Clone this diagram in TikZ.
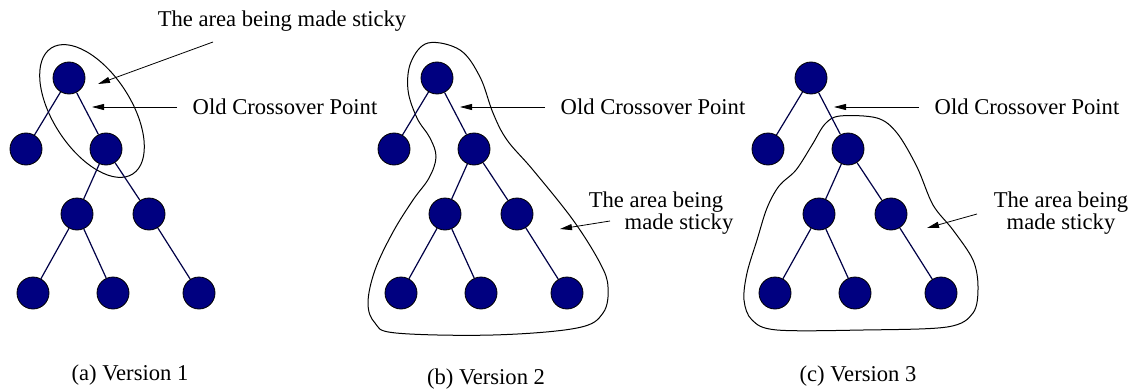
\documentclass[tikz,border=0pt]{standalone}
\usepackage{fontspec}
\setmainfont{Liberation Serif}
\usetikzlibrary{arrows.meta}
\definecolor{treeblue}{RGB}{0,0,128}

\begin{document}
\begin{tikzpicture}[x=0.5pt, y=-0.5pt, >={Triangle[length=6pt,width=3pt]},
  vert/.style={circle, draw=black, fill=treeblue, minimum size=16pt, inner sep=0pt, line width=0.4pt},
  edge/.style={draw=treeblue!55!black, line width=0.6pt},
  hull/.style={line width=0.5pt},
  lab/.style={anchor=base, inner sep=0pt, font=\fontsize{11.3}{13}\selectfont}]
\useasboundingbox (0,0) rectangle (1133,390);
% --- Version 1 ---
\begin{scope}
\draw[hull, rotate around={-57:(92,111)}] (92,111) ellipse (75 and 39);
\foreach \n/\x/\y in {r/69/78, l1/26/149, r1/106/149, m1/77/214, m2/149/214, b1/33/293, b2/113/293, b3/199/293}
  {\node[vert] (\n) at (\x,\y) {};}
\foreach \a/\b in {r/l1, r/r1, r1/m1, r1/m2, m1/b1, m1/b2, m2/b3}
  {\draw[edge] (\a) -- (\b);}
\node[lab] (stick) at (282,27) {The area being made sticky};
\coordinate (sA) at (213,42); \coordinate (sB) at (98,84);
\draw[->] (sA) -- (sB);
\node[lab] (ocp) at (285,114) {Old Crossover Point};
\coordinate (oA) at (177,107); \coordinate (oB) at (92,107);
\draw[->] (oA) -- (oB);
\node[lab] (cap) at (130,380) {(a) Version 1};
\end{scope}
% --- Version 2 ---
\begin{scope}[xshift=184pt]
\draw[hull] plot[smooth cycle, tension=0.6] coordinates {(60,43) (43,62) (40,90) (49,118) (62,138) (68,157) (61,178) (45,200) (25,232) (7,270) (0,303) (7,323) (28,333) (125,335) (209,328) (235,313) (240,287) (232,263) (205,220) (165,170) (139,140) (125,113) (112,77) (92,50)};
\foreach \n/\x/\y in {r/69/78, l1/26/149, r1/106/149, m1/77/214, m2/149/214, b1/33/293, b2/113/293, b3/199/293}
  {\node[vert] (\n) at (\x,\y) {};}
\foreach \a/\b in {r/l1, r/r1, r1/m1, r1/m2, m1/b1, m1/b2, m2/b3}
  {\draw[edge] (\a) -- (\b);}
\node[lab] (ocp) at (285,114) {Old Crossover Point};
\coordinate (oA) at (177,107); \coordinate (oB) at (92,107);
\draw[->] (oA) -- (oB);
\node[lab] (stick1) at (288,207) {The area being};
\node[lab] (stick2) at (311,229) {made sticky};
\coordinate (sA) at (242,221); \coordinate (sB) at (192,229);
\draw[->] (sA) -- (sB);
\node[lab] (cap) at (118,384) {(b) Version 2};
\end{scope}
% --- Version 3 ---
\begin{scope}[xshift=371pt]
\draw[hull] plot[smooth cycle, tension=0.55] coordinates {(98,116) (83,124) (70,145) (54,170) (37,186) (25,208) (15,240) (5,273) (2,300) (10,320) (35,330) (121,330) (205,327) (231,313) (236,287) (231,260) (211,230) (191,205) (175,167) (155,133) (135,118)};
\foreach \n/\x/\y in {r/69/78, l1/26/149, r1/106/149, m1/77/214, m2/149/214, b1/33/293, b2/113/293, b3/199/293}
  {\node[vert] (\n) at (\x,\y) {};}
\foreach \a/\b in {r/l1, r/r1, r1/m1, r1/m2, m1/b1, m1/b2, m2/b3}
  {\draw[edge] (\a) -- (\b);}
\node[lab] (ocp) at (285,114) {Old Crossover Point};
\coordinate (oA) at (177,107); \coordinate (oB) at (92,107);
\draw[->] (oA) -- (oB);
\node[lab] (stick1) at (319,207) {The area being};
\node[lab] (stick2) at (319,229) {made sticky};
\coordinate (sA) at (235,214); \coordinate (sB) at (185,228);
\draw[->] (sA) -- (sB);
\node[lab] (cap) at (116,381) {(c) Version 3};
\end{scope}
\end{tikzpicture}
\end{document}
